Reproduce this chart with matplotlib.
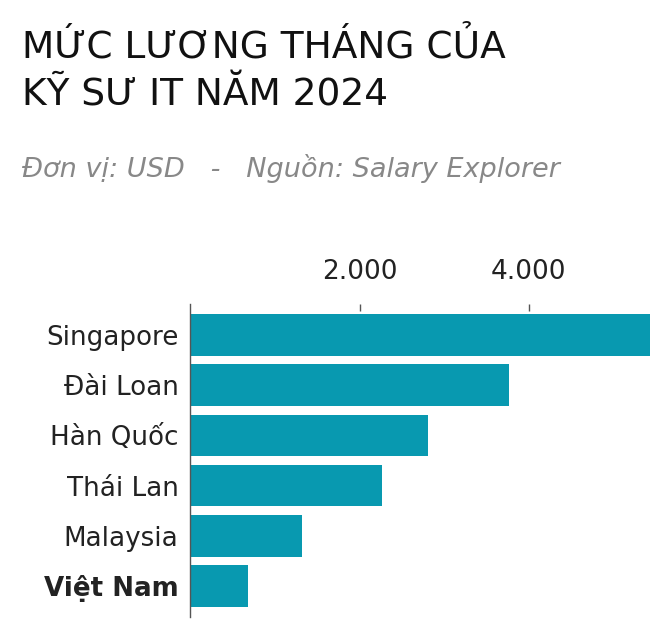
import matplotlib
matplotlib.use("Agg")
import matplotlib.pyplot as plt

countries = ["Singapore", "Đài Loan", "Hàn Quốc", "Thái Lan", "Malaysia", "Việt Nam"]
salaries = [5431, 3769, 2812, 2268, 1323, 685]
tick_values = [2000, 4000]
tick_labels = ["2.000", "4.000"]

title_lines = ["MỨC LƯƠNG THÁNG CỦA", "KỸ SƯ IT NĂM 2024"]
subtitle = "Đơn vị: USD   -   Nguồn: Salary Explorer"

W, H = 669, 623
plt.rcParams["font.family"] = ["DejaVu Sans"]
fig = plt.figure(figsize=(W / 100, H / 100), dpi=100)
fig.patch.set_facecolor("white")

def fy(py):
    return (H - py) / H

ax_left, ax_right, ax_top, ax_bottom = 190.3, 660, 304, 617
ax = fig.add_axes([ax_left / W, fy(ax_bottom), (ax_right - ax_left) / W, (ax_bottom - ax_top) / H])

ypos = list(range(len(countries)))
ax.barh(ypos, salaries, height=0.83, color="#0899b0", zorder=2)
ax.set_ylim(len(countries) - 1 + 0.62, -0.62)
ax.set_xlim(0, (ax_right - ax_left) / 84.65 * 1000)

ax.set_yticks(ypos)
ax.set_yticklabels(countries, fontsize=18.8, color="#222222")
ax.get_yticklabels()[-1].set_fontweight("bold")
ax.tick_params(axis="y", length=0, pad=8.5)

ax.xaxis.tick_top()
ax.set_xticks(tick_values)
ax.set_xticklabels(tick_labels, fontsize=19, color="#222222")
ax.tick_params(axis="x", direction="in", length=5, width=1, color="#555555", pad=13.5)

for s in ["top", "right", "bottom"]:
    ax.spines[s].set_visible(False)
ax.spines["left"].set_color("#555555")
ax.spines["left"].set_linewidth(1)

fig.text(22 / W, fy(57), title_lines[0], fontsize=27, color="#111111", va="baseline", ha="left")
fig.text(22 / W, fy(106), title_lines[1], fontsize=27, color="#111111", va="baseline", ha="left")
fig.text(22 / W, fy(177), subtitle, fontsize=19.5, color="#888888", style="italic", va="baseline", ha="left")

fig.savefig("out.png", dpi=100, facecolor="white")
